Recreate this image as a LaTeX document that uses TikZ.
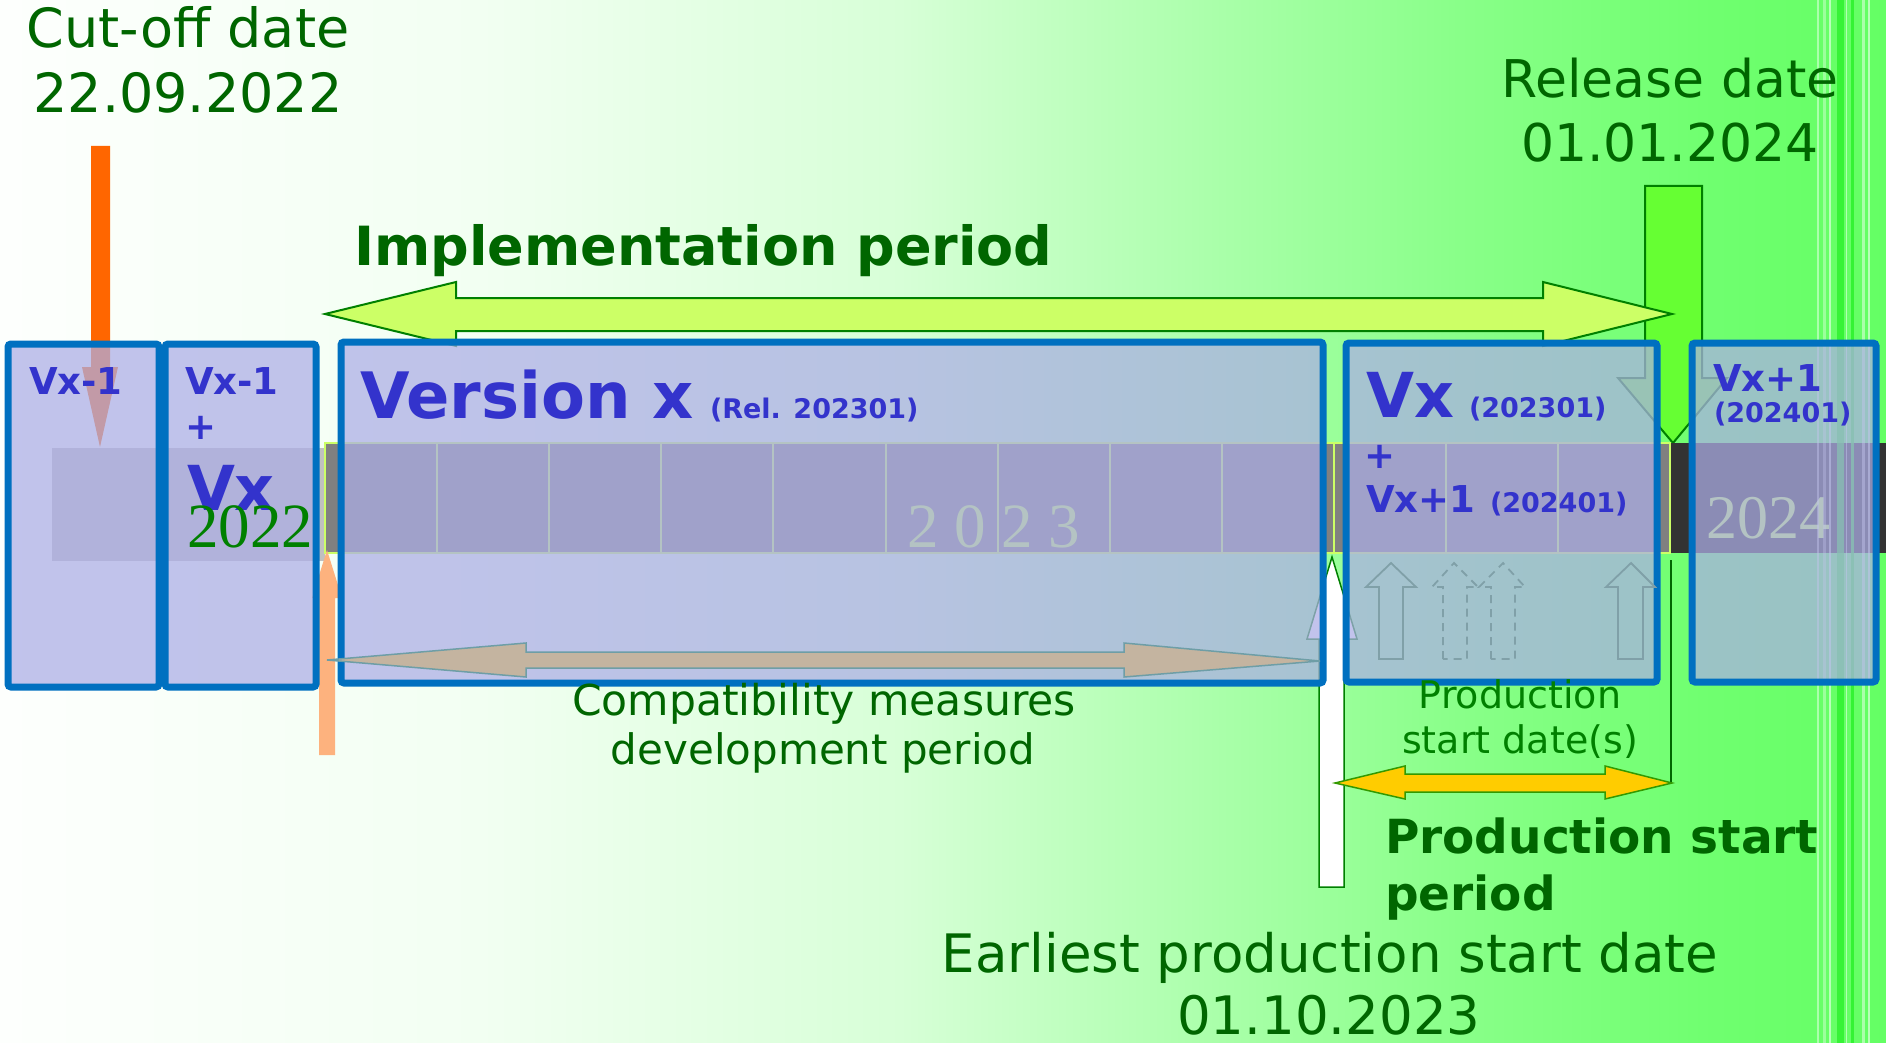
\documentclass[tikz,border=0pt]{standalone}
\usepackage{fontspec}
\setmainfont{DejaVu Sans}
\newfontfamily\yearfont{Liberation Serif}
\newcommand{\fsz}[1]{\fontsize{#1}{#1}\selectfont}
\definecolor{dkgreen}{RGB}{0,102,0}
\definecolor{midgreen}{RGB}{0,128,0}
\definecolor{txtblue}{RGB}{51,51,204}
\definecolor{boxblue}{RGB}{0,112,192}
\definecolor{boxfill}{RGB}{172,174,230}
\definecolor{implfill}{RGB}{204,255,102}
\definecolor{relfill}{RGB}{102,255,51}
\definecolor{cutorange}{RGB}{255,102,0}
\definecolor{lightorange}{RGB}{253,178,126}
\definecolor{compfill}{RGB}{196,180,160}
\definecolor{compline}{RGB}{110,158,166}
\definecolor{prodfill}{RGB}{255,204,0}
\definecolor{prodline}{RGB}{51,153,0}
\definecolor{cellgray}{RGB}{128,128,128}
\definecolor{bargray}{RGB}{192,192,192}
\definecolor{bardark}{RGB}{51,51,51}
\definecolor{gridyel}{RGB}{204,255,102}
\definecolor{smallarr}{RGB}{128,160,168}
\definecolor{streakgreen}{RGB}{40,240,40}
\definecolor{bgA}{RGB}{253,255,253}
\definecolor{bgB}{RGB}{242,255,242}
\definecolor{bgC}{RGB}{215,255,215}
\definecolor{bgD}{RGB}{172,255,172}
\definecolor{bgE}{RGB}{138,255,138}
\definecolor{bgF}{RGB}{112,255,112}
\definecolor{bgG}{RGB}{100,255,100}
\tikzset{
  txt/.style={inner sep=0pt, outer sep=0pt},
  gtxt/.style={txt, text=dkgreen},
  btxt/.style={txt, text=txtblue},
  vbox/.style={draw=boxblue, line width=7pt, rounded corners=3pt, fill=boxfill, fill opacity=0.73},
  blockarrow/.style={line width=2pt, line join=miter},
  smallarrow/.style={draw=smallarr, line width=1.8pt},
  gridline/.style={draw=gridyel, line width=2pt},
  streakw/.style={draw=white, line cap=round},
  streakg/.style={draw=streakgreen, line cap=round}
}
\begin{document}
\begin{tikzpicture}[x=1pt,y=-1pt]
\useasboundingbox (0,0) rectangle (1886,1043);
% background
\shade[left color=bgA,right color=bgB] (0,0) rectangle (482,1043);
\shade[left color=bgB,right color=bgC] (480,0) rectangle (902,1043);
\shade[left color=bgC,right color=bgD] (900,0) rectangle (1202,1043);
\shade[left color=bgD,right color=bgE] (1200,0) rectangle (1452,1043);
\shade[left color=bgE,right color=bgF] (1450,0) rectangle (1702,1043);
\shade[left color=bgF,right color=bgG] (1700,0) rectangle (1886,1043);

% cut-off arrow (down)
\fill[cutorange] (91,146) -- (110,146) -- (110,367) -- (118,367) -- (100,447) -- (82,367) -- (91,367) -- cycle;
% release arrow (down)
\filldraw[blockarrow, fill=relfill, draw=midgreen] (1645,186) -- (1702,186) -- (1702,378) -- (1727,378) -- (1673,443) -- (1618,378) -- (1645,378) -- cycle;
% implementation period arrow
\filldraw[blockarrow, fill=implfill, draw=midgreen] (325,314) -- (456,282) -- (456,298) -- (1543,298) -- (1543,282) -- (1672,314) -- (1543,346) -- (1543,331) -- (456,331) -- (456,346) -- cycle;

% timeline bars
\fill[bargray] (52,448) rectangle (325,561);
\fill[cellgray] (325,443) rectangle (1670,553);
\fill[bardark] (1670,443) rectangle (1886,553);
\draw[gridline] (325,443) rectangle (1334,553);
\draw[gridline] (1334,443) rectangle (1670,553);
\foreach \gx in {437,549,661,773,886,998,1110,1222,1446,1558}
  \draw[gridline] (\gx,443) -- (\gx,553);
\node[txt, anchor=base west, text=gridyel, font=\yearfont\fsz{63}] (y2023) at (907,547) {2 0 2 3};
\node[txt, anchor=base west, text=gridyel, font=\yearfont\fsz{62}] (y2024) at (1706,538) {2024};

% streaks at right edge
\draw[streakg, line width=7pt, opacity=0.75] (1840,0) -- (1840,1043);
\draw[streakg, line width=3pt, opacity=0.8] (1852,0) -- (1852,1043);
\draw[streakw, line width=2pt, opacity=0.45] (1818,0) -- (1818,1043);
\draw[streakw, line width=3pt, opacity=0.35] (1824,0) -- (1824,1043);
\draw[streakw, line width=1.5pt, opacity=0.55] (1830,0) -- (1830,1043);
\draw[streakw, line width=1pt, opacity=0.5] (1846,0) -- (1846,1043);
\draw[streakw, line width=3pt, opacity=0.45] (1863,0) -- (1863,1043);
\draw[streakw, line width=1.5pt, opacity=0.55] (1869,0) -- (1869,1043);

% earliest production start arrow (up, white)
\filldraw[line width=1.5pt, fill=white, draw=midgreen] (1319,887) -- (1319,639) -- (1307,639) -- (1332,557) -- (1357,639) -- (1344,639) -- (1344,887) -- cycle;
% light orange arrow (up)
\fill[lightorange] (319,755) -- (319,598) -- (312,598) -- (327,550) -- (342,598) -- (335,598) -- (335,755) -- cycle;

% version boxes
\draw[vbox] (8,344) rectangle (159,687);
\draw[vbox] (165,344) rectangle (316,687);
\draw[vbox] (341,342) rectangle (1323,683);
\draw[vbox] (1346,343) rectangle (1657,682);
\draw[vbox] (1692,343) rectangle (1876,682);

% small production arrows
\draw[smallarrow] (1379,659) -- (1379,587) -- (1366,587) -- (1391,563) -- (1416,587) -- (1403,587) -- (1403,659) -- cycle;
\draw[smallarrow, dash pattern=on 8pt off 6pt] (1443,659) -- (1443,587) -- (1432,587) -- (1454,563) -- (1478,587) -- (1467,587) -- (1467,659) -- cycle;
\draw[smallarrow, dash pattern=on 8pt off 6pt] (1491,659) -- (1491,587) -- (1479,587) -- (1503,563) -- (1525,587) -- (1515,587) -- (1515,659) -- cycle;
\draw[smallarrow] (1618,659) -- (1618,587) -- (1606,587) -- (1631,563) -- (1655,587) -- (1643,587) -- (1643,659) -- cycle;

% compatibility arrow
\filldraw[line width=1.5pt, fill=compfill, draw=compline] (327,660) -- (526,643) -- (526,652) -- (1124,652) -- (1124,643) -- (1320,661) -- (1124,677) -- (1124,668) -- (526,668) -- (526,677) -- cycle;

% production start period arrow and marker line
\coordinate (relmark) at (1671,560);
\coordinate (prodend) at (1671,783);
\draw[dkgreen, line width=1.2pt] (relmark) -- (prodend);
\filldraw[line width=1.5pt, fill=prodfill, draw=prodline] (1335,783) -- (1405,766) -- (1405,774) -- (1605,774) -- (1605,766) -- (1672,783) -- (1605,799) -- (1605,792) -- (1405,792) -- (1405,799) -- cycle;

% texts
\node[gtxt, anchor=base, font=\fsz{54}] (cut1) at (188,48) {Cut-off date};
\node[gtxt, anchor=base, font=\fsz{54}] (cut2) at (188,113) {22.09.2022};
\node[gtxt, anchor=base, font=\fsz{52}] (rel1) at (1670,98) {Release date};
\node[gtxt, anchor=base, font=\fsz{52}] (rel2) at (1670,162) {01.01.2024};
\node[gtxt, anchor=base west, font=\fsz{54}\bfseries] (impl) at (354,265) {Implementation period};

\node[btxt, anchor=base west, font=\fsz{37}\bfseries] (b1a) at (29,394) {Vx-1};
\node[btxt, anchor=base west, font=\fsz{37}\bfseries] (b2a) at (185,394) {Vx-1};
\node[btxt, anchor=base west, font=\fsz{37}\bfseries] (b2b) at (185,439) {+};
\node[btxt, anchor=base west, font=\fsz{62}\bfseries] (b2c) at (187,510) {Vx};
\node[txt, anchor=base west, text=midgreen, font=\yearfont\fsz{63}] (y2022) at (187,547) {2022};

\node[btxt, anchor=base west, font=\fsz{64}\bfseries] (b3a) at (360,418) {Version x};
\node[btxt, anchor=base west, font=\fsz{27}\bfseries] (b3b) at (710,418) {(Rel. 202301)};

\node[btxt, anchor=base west, font=\fsz{62}\bfseries] (b4a) at (1366,417) {Vx};
\node[btxt, anchor=base west, font=\fsz{27}\bfseries] (b4b) at (1469,417) {(202301)};
\node[btxt, anchor=base west, font=\fsz{37}\bfseries] (b4c) at (1364,468) {+};
\node[btxt, anchor=base west, font=\fsz{37}\bfseries] (b4d) at (1366,512) {Vx+1};
\node[btxt, anchor=base west, font=\fsz{27}\bfseries] (b4e) at (1490,512) {(202401)};

\node[btxt, anchor=base west, font=\fsz{37}\bfseries] (b5a) at (1713,391) {Vx+1};
\node[btxt, anchor=base west, font=\fsz{27}\bfseries] (b5b) at (1714,422) {(202401)};

\node[gtxt, anchor=base, font=\fsz{42.5}] (comp1) at (824,715) {Compatibility measures};
\node[gtxt, anchor=base, font=\fsz{42}] (comp2) at (823,764) {development period};

\node[txt, text=midgreen, anchor=base, font=\fsz{38}] (psd1) at (1520,708) {Production};
\node[txt, text=midgreen, anchor=base, font=\fsz{38}] (psd2) at (1520,753) {start date(s)};

\node[gtxt, anchor=base west, font=\fsz{47}\bfseries] (psp1) at (1385,853) {Production start};
\node[gtxt, anchor=base west, font=\fsz{47}\bfseries] (psp2) at (1385,910) {period};

\node[gtxt, anchor=base, font=\fsz{53}] (eps1) at (1330,972) {Earliest production start date};
\node[gtxt, anchor=base, font=\fsz{53}] (eps2) at (1329,1034) {01.10.2023};
\end{tikzpicture}
\end{document}
